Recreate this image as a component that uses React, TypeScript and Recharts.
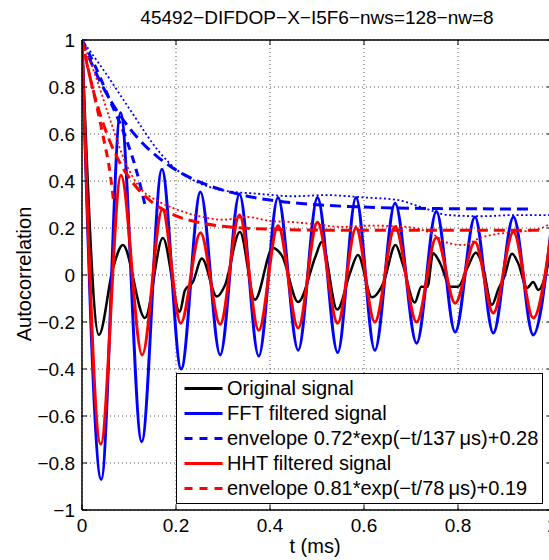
import React from "react";
import {
    CartesianGrid,
    Legend,
    Line,
    LineChart,
    ReferenceLine,
    XAxis,
    YAxis,
} from "recharts";

const title = "45492\u2212DIFDOP\u2212X\u2212I5F6\u2212nws=128\u2212nw=8";
const xTicks = [0, 0.2, 0.4, 0.6, 0.8, 1];
const yTicks = [-1, -0.8, -0.6, -0.4, -0.2, 0, 0.2, 0.4, 0.6, 0.8, 1];

// original autocorrelation (black), read at its turning points
const origT = [0, 0.036, 0.066, 0.087, 0.134, 0.172, 0.208, 0.219, 0.236, 0.255, 0.287, 0.304, 0.336, 0.368, 0.406, 0.426, 0.46, 0.497, 0.51, 0.543, 0.571, 0.587, 0.617, 0.642, 0.667, 0.682, 0.708, 0.722, 0.735, 0.747, 0.762, 0.784, 0.8, 0.82, 0.838, 0.853, 0.872, 0.886, 0.898, 0.915, 0.928, 0.947, 0.96, 0.971, 1.0];
const origV = [1.0, -0.255, 0.03, 0.128, -0.183, 0.157, -0.157, -0.065, -0.03, 0.07, -0.092, -0.045, 0.183, -0.105, 0.115, 0.08, -0.115, 0.08, 0.14, -0.147, 0.013, 0.085, -0.095, -0.03, 0.128, 0.05, -0.117, -0.05, -0.05, 0.093, 0.05, -0.05, -0.05, 0.03, 0.095, 0.035, -0.127, -0.06, -0.01, 0.09, 0.05, -0.055, -0.03, -0.064, 0.125];

// FFT filtered (blue), peaks and troughs
const fftT = [0, 0.041, 0.082, 0.127, 0.17, 0.211, 0.252, 0.294, 0.335, 0.376, 0.417, 0.46, 0.501, 0.544, 0.583, 0.623, 0.666, 0.712, 0.754, 0.794, 0.836, 0.875, 0.918, 0.96, 1.0];
const fftV = [1.0, -0.87, 0.69, -0.71, 0.45, -0.4, 0.353, -0.34, 0.345, -0.345, 0.33, -0.32, 0.33, -0.33, 0.33, -0.32, 0.305, -0.29, 0.27, -0.243, 0.247, -0.247, 0.247, -0.255, 0.23];

// HHT filtered (red), peaks and troughs
const hhtT = [0, 0.04, 0.083, 0.128, 0.171, 0.21, 0.252, 0.294, 0.335, 0.376, 0.417, 0.46, 0.501, 0.544, 0.583, 0.623, 0.666, 0.712, 0.754, 0.794, 0.836, 0.875, 0.918, 0.96, 1.0];
const hhtV = [1.0, -0.72, 0.425, -0.34, 0.28, -0.205, 0.18, -0.21, 0.255, -0.235, 0.21, -0.225, 0.225, -0.205, 0.2, -0.2, 0.205, -0.2, 0.16, -0.12, 0.14, -0.162, 0.183, -0.183, 0.2];

// fitted envelopes (dashed)
const fftEnvT = [0, 0.02, 0.04, 0.06, 0.08, 0.1, 0.12, 0.14, 0.16, 0.18, 0.2, 0.25, 0.3, 0.35, 0.4, 0.45, 0.5, 0.6, 0.7, 0.8, 0.95];
const fftEnvV = [1, 0.902, 0.818, 0.745, 0.682, 0.627, 0.58, 0.539, 0.504, 0.474, 0.447, 0.396, 0.361, 0.336, 0.319, 0.307, 0.299, 0.289, 0.284, 0.282, 0.281];
const hhtEnvT = [0, 0.01, 0.02, 0.03, 0.04, 0.06, 0.08, 0.1, 0.12, 0.14, 0.16, 0.18, 0.2, 0.25, 0.3, 0.35, 0.4, 0.5, 0.6, 0.8, 0.98];
const hhtEnvV = [1, 0.903, 0.817, 0.741, 0.675, 0.565, 0.48, 0.415, 0.364, 0.325, 0.294, 0.271, 0.252, 0.223, 0.207, 0.199, 0.195, 0.191, 0.19, 0.19, 0.19];

// short early envelopes (dashed, not in legend)
const fftEarlyT = [0, 0.03, 0.06, 0.09, 0.115, 0.135];
const fftEarlyV = [1, 0.88, 0.74, 0.6, 0.45, 0.29];
const hhtEarlyT = [0, 0.015, 0.03, 0.045, 0.06, 0.068];
const hhtEarlyV = [1, 0.86, 0.73, 0.59, 0.43, 0.3];

// instantaneous amplitude (dotted, not in legend)
const fftAmpT = [0, 0.05, 0.1, 0.166, 0.2, 0.24, 0.3, 0.38, 0.45, 0.52, 0.6, 0.67, 0.72, 0.78, 0.85, 0.92, 1.0];
const fftAmpV = [1, 0.86, 0.71, 0.52, 0.45, 0.4, 0.36, 0.345, 0.335, 0.34, 0.33, 0.32, 0.29, 0.255, 0.25, 0.255, 0.255];
const hhtAmpT = [0, 0.03, 0.06, 0.09, 0.12, 0.166, 0.2, 0.25, 0.3, 0.35, 0.4, 0.45, 0.5, 0.55, 0.62, 0.69, 0.74, 0.78, 0.81, 0.85, 0.92, 0.96, 1.0];
const hhtAmpV = [1, 0.84, 0.66, 0.49, 0.38, 0.31, 0.28, 0.25, 0.235, 0.247, 0.23, 0.225, 0.215, 0.205, 0.21, 0.205, 0.18, 0.136, 0.128, 0.16, 0.183, 0.19, 0.22];

const legendItems = [
    { label: "Original signal", color: "#000000", dash: "" },
    { label: "FFT filtered signal", color: "#0000ff", dash: "" },
    { label: "envelope 0.72*exp(\u2212t/137\u2009\u03bcs)+0.28", color: "#0000ff", dash: "8 7" },
    { label: "HHT filtered signal", color: "#ff0000", dash: "" },
    { label: "envelope 0.81*exp(\u2212t/78\u2009\u03bcs)+0.19", color: "#ff0000", dash: "8 7" },
];

const FONT = '"Liberation Sans", Arial, Helvetica, sans-serif';
const PLOT = 470;
const TICK = 5;

const pts = (ts: number[], vs: number[]) => ts.map((t, i) => ({ t, v: vs[i] }));
const fmt = (v: number) => String(v).replace("-", "\u2212");

const XTick = ({ x, y, payload }: any) => (
    <g>
        <line x1={x} y1={y} x2={x} y2={y - TICK} stroke="#000" />
        <line x1={x} y1={y - PLOT} x2={x} y2={y - PLOT + TICK} stroke="#000" />
        <text x={x} y={y + 22} textAnchor="middle" fontSize={19} fontFamily={FONT} fill="#000">
            {fmt(payload.value)}
        </text>
    </g>
);

const YTick = ({ x, y, payload }: any) => (
    <g>
        <line x1={x} y1={y} x2={x + TICK} y2={y} stroke="#000" />
        <line x1={x + PLOT} y1={y} x2={x + PLOT - TICK} y2={y} stroke="#000" />
        <text x={x - 7} y={y + 6.8} textAnchor="end" fontSize={19} fontFamily={FONT} fill="#000">
            {fmt(payload.value)}
        </text>
    </g>
);

const LegendBox = () => (
    <div
        style={{
            width: 367,
            height: 131,
            boxSizing: "border-box",
            border: "1.5px solid #000",
            background: "#fff",
            position: "relative",
            fontFamily: FONT,
            fontSize: 20,
            color: "#000",
        }}
    >
        {legendItems.map((it, i) => (
            <div
                key={i}
                style={{ position: "absolute", left: 0, top: 2 + 25 * i, height: 25, display: "flex", alignItems: "center" }}
            >
                <svg width={50} height={25} style={{ display: "block" }}>
                    <line x1={7.5} x2={45.5} y1={12.5} y2={12.5} stroke={it.color} strokeWidth={3} strokeDasharray={it.dash || undefined} />
                </svg>
                <span style={{ lineHeight: "25px", whiteSpace: "nowrap" }}>{it.label}</span>
            </div>
        ))}
    </div>
);

const App = () => {
    return (
        <div
            style={{
                position: "absolute",
                left: 0,
                top: 0,
                width: 549,
                height: 560,
                overflow: "hidden",
                background: "#fff",
                fontFamily: FONT,
            }}
        >
            <LineChart width={560} height={560} margin={{ top: 40, right: 8, bottom: 0, left: 0 }}>
                <CartesianGrid stroke="#555" strokeDasharray="1 3" />
                <XAxis
                    type="number"
                    dataKey="t"
                    domain={[0, 1]}
                    ticks={xTicks}
                    allowDataOverflow
                    height={50}
                    tickSize={0}
                    tickMargin={0}
                    tickLine={false}
                    axisLine={{ stroke: "#000", strokeWidth: 1.5 }}
                    tick={<XTick />}
                />
                <YAxis
                    type="number"
                    dataKey="v"
                    domain={[-1, 1]}
                    ticks={yTicks}
                    allowDataOverflow
                    width={82}
                    tickSize={0}
                    tickMargin={0}
                    tickLine={false}
                    axisLine={{ stroke: "#000", strokeWidth: 1.5 }}
                    tick={<YTick />}
                />
                <ReferenceLine y={1} stroke="#000" strokeWidth={1.5} />
                <ReferenceLine x={1} stroke="#000" strokeWidth={1.5} />
                <Line data={pts(origT, origV)} dataKey="v" type="monotone" stroke="#000" strokeWidth={2.5} dot={false} activeDot={false} isAnimationActive={false} legendType="none" />
                <Line data={pts(fftT, fftV)} dataKey="v" type="monotone" stroke="#0000ff" strokeWidth={3} dot={false} activeDot={false} isAnimationActive={false} legendType="none" />
                <Line data={pts(fftEnvT, fftEnvV)} dataKey="v" type="monotone" stroke="#0000ff" strokeWidth={3} strokeDasharray="11 6" dot={false} activeDot={false} isAnimationActive={false} legendType="none" />
                <Line data={pts(fftEarlyT, fftEarlyV)} dataKey="v" type="monotone" stroke="#0000ff" strokeWidth={3} strokeDasharray="8 6" dot={false} activeDot={false} isAnimationActive={false} legendType="none" />
                <Line data={pts(fftAmpT, fftAmpV)} dataKey="v" type="monotone" stroke="#0000ff" strokeWidth={1.8} strokeDasharray="2 2.5" dot={false} activeDot={false} isAnimationActive={false} legendType="none" />
                <Line data={pts(hhtT, hhtV)} dataKey="v" type="monotone" stroke="#ff0000" strokeWidth={3} dot={false} activeDot={false} isAnimationActive={false} legendType="none" />
                <Line data={pts(hhtEnvT, hhtEnvV)} dataKey="v" type="monotone" stroke="#ff0000" strokeWidth={3} strokeDasharray="11 6" dot={false} activeDot={false} isAnimationActive={false} legendType="none" />
                <Line data={pts(hhtEarlyT, hhtEarlyV)} dataKey="v" type="monotone" stroke="#ff0000" strokeWidth={3} strokeDasharray="8 6" dot={false} activeDot={false} isAnimationActive={false} legendType="none" />
                <Line data={pts(hhtAmpT, hhtAmpV)} dataKey="v" type="monotone" stroke="#ff0000" strokeWidth={1.8} strokeDasharray="2 2.5" dot={false} activeDot={false} isAnimationActive={false} legendType="none" />
                <Legend
                    layout="horizontal"
                    verticalAlign="middle"
                    align="center"
                    wrapperStyle={{ left: 176, top: 373, width: 367, height: 131 }}
                    content={() => <LegendBox />}
                />
            </LineChart>
            <div
                style={{
                    position: "absolute",
                    left: 317,
                    top: 17,
                    transform: "translate(-50%, -50%)",
                    fontSize: 19,
                    lineHeight: "19px",
                    whiteSpace: "nowrap",
                    color: "#000",
                }}
            >
                {title}
            </div>
            <div
                style={{
                    position: "absolute",
                    left: 315,
                    top: 546,
                    transform: "translate(-50%, -50%)",
                    fontSize: 20,
                    lineHeight: "20px",
                    whiteSpace: "nowrap",
                    color: "#000",
                }}
            >
                t (ms)
            </div>
            <div
                style={{
                    position: "absolute",
                    left: 24,
                    top: 274,
                    transform: "translate(-50%, -50%) rotate(-90deg)",
                    fontSize: 20,
                    lineHeight: "20px",
                    whiteSpace: "nowrap",
                    color: "#000",
                }}
            >
                Autocorrelation
            </div>
        </div>
    );
};

export default App;
